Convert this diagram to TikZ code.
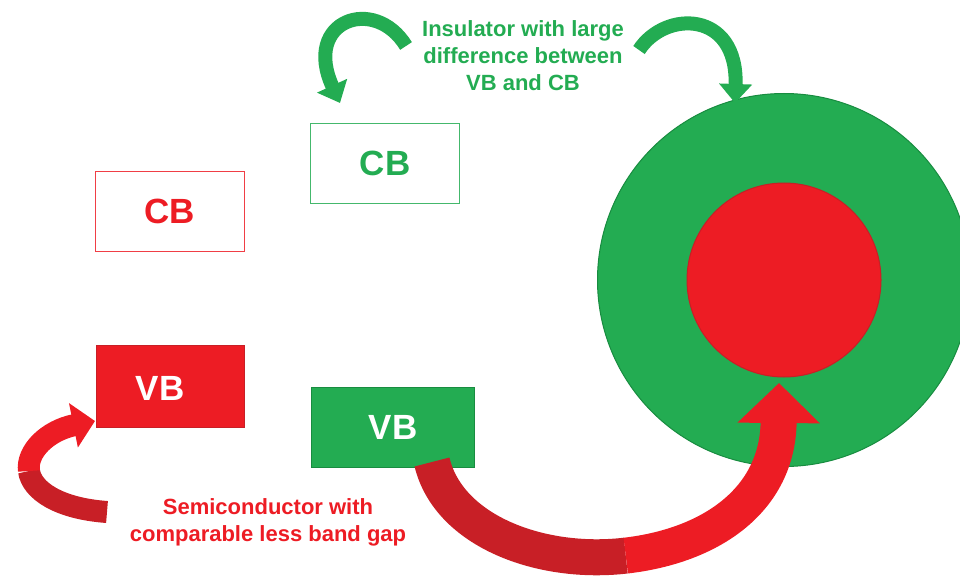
\documentclass[tikz,border=0pt]{standalone}
\usepackage{fontspec}
\setmainfont{Liberation Sans}
\usetikzlibrary{arrows.meta}
\definecolor{gr}{RGB}{35,172,82}
\definecolor{grd}{RGB}{24,140,64}
\definecolor{rd}{RGB}{237,28,36}
\definecolor{rdd}{RGB}{200,31,38}
\begin{document}
\begin{tikzpicture}[x=1pt,y=-1pt,
  boxfont/.style={font=\fontsize{35}{35}\selectfont\bfseries},
  outlinebox/.style={rectangle, inner sep=0pt, line width=1.2pt, fill=white, boxfont},
  filledbox/.style={rectangle, inner sep=0pt, line width=0.8pt, boxfont, text=white},
  caption/.style={align=center, font=\fontsize{22}{27}\selectfont\bfseries},
  garrow/.style={draw=gr, line width=14pt, line cap=butt, -{Triangle[width=32pt,length=19pt]}},
  rshaft/.style={line width=#1, line cap=butt},
]
\useasboundingbox (0,0) rectangle (960,580);
\clip (0,0) rectangle (960,580);

% circles
\node[circle, fill=gr, draw=grd, line width=1pt, minimum size=373pt, inner sep=0pt] (outer) at (784,280) {};
\node[circle, fill=rd, draw=rdd, line width=1pt, minimum size=194pt, inner sep=0pt] (inner) at (784,280) {};

% boxes
\node[outlinebox, draw=rd!85, text=rd, minimum width=149pt, minimum height=80pt] (cbr) at (170,211.5) {CB};
\node[outlinebox, draw=gr!85, text=gr, minimum width=149pt, minimum height=80pt] (cbg) at (385,163.5) {CB};
\node[filledbox, fill=rd, draw=rdd, minimum width=148pt, minimum height=82pt] (vbr) at (170,386.5) {};
\node[boxfont, text=white, inner sep=0pt] (vbrlabel) at (160,388) {VB};
\node[filledbox, fill=gr, draw=grd, minimum width=163pt, minimum height=80pt] (vbg) at (393,427.5) {VB};

% captions
\node[caption, text=gr] (ins) at (523,56) {Insulator with large\\difference between\\VB and CB};
\node[caption, text=rd] (semi) at (268,522) {Semiconductor with\\comparable less band gap};

% green arrows
\coordinate (gla) at (406,46);
\coordinate (glb) at (340,103);
\draw[garrow] (gla) .. controls (375,-5) and (302,20) .. (glb);
\coordinate (gra) at (639,50);
\coordinate (grb) at (735,103);
\draw[garrow] (gra) .. controls (665,10) and (738,10) .. (grb);

% small red arrow
\coordinate (sra) at (107,512);
\coordinate (srm) at (29,471);
\coordinate (srb) at (95,421);
\draw[rshaft=22pt, draw=rdd] (sra) .. controls (58.5,508.5) and (31.75,490.5) .. (srm);
\draw[rshaft=22pt, draw=rd, -{Triangle[width=44pt,length=22pt]}] (srm) .. controls (26.25,451.5) and (47.5,430.5) .. (srb);

% big red arrow
\coordinate (bra) at (432,462);
\coordinate (brm) at (625.75,555.6);
\coordinate (brb) at (779,383);
\draw[rshaft=36pt, draw=rdd] (bra) .. controls (448.5,531) and (540.5,565.5) .. (brm);
\draw[rshaft=36pt, draw=rd, -{Triangle[width=80pt,length=40pt]}] (brm) .. controls (711,545.75) and (778,500) .. (brb);
\end{tikzpicture}
\end{document}
